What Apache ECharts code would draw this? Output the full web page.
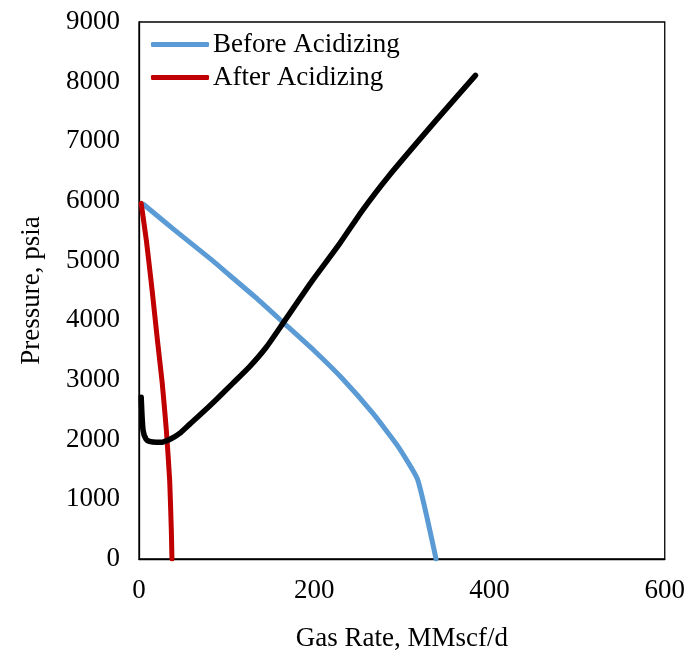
<!DOCTYPE html>
<html>
<head>
<meta charset="utf-8">
<script src="https://cdn.jsdelivr.net/npm/echarts@6/dist/echarts.min.js"></script>
<style>html,body{margin:0;padding:0;background:#fff}#c{width:688px;height:659px}</style>
</head>
<body>
<div id="c"></div>
<script>
// Gas rate (MMscf/d), pressure (psia)
const beforeAcidizing = [[5,5945],[40,5520],[84,5000],[103,4760],[135,4360],[166,3945],[200,3490],[232,3025],[267,2440],[295,1900],[318,1330],[339,0]];
const afterAcidizing = [[2.5,5960],[8.4,5340],[15,4500],[21,3670],[26.5,2950],[31.2,2160],[35,1320],[36.9,480],[37.6,0]];
const tubingCurve = [[2.5,2710],[4.6,2160],[8,2010],[12,1970],[20,1955],[27,1960],[36,2010],[46,2100],[58,2260],[70,2420],[88,2670],[107,2944],[126,3220],[145,3545],[164,3945],[198,4670],[229,5286],[255,5844],[284,6400],[339,7351],[384,8106]];
const seriesNames = ['Before Acidizing', 'After Acidizing'];
const xTitle = 'Gas Rate, MMscf/d';
const yTitle = 'Pressure, psia';

const FONT = '"Liberation Serif", "Times New Roman", serif';
const chart = echarts.init(document.getElementById('c'), null, {renderer: 'canvas'});
chart.setOption({
  animation: false,
  backgroundColor: '#fff',
  textStyle: {fontFamily: FONT, color: '#000'},
  grid: {left: 139, top: 22, right: 22, bottom: 100, show: true, borderColor: '#000', borderWidth: 1.3, backgroundColor: 'transparent'},
  legend: {
    data: seriesNames,
    orient: 'vertical',
    left: 146,
    top: 26,
    itemWidth: 58,
    itemHeight: 5,
    itemGap: 6,
    icon: 'roundRect',
    textStyle: {fontFamily: FONT, fontSize: 27, color: '#000', lineHeight: 27, padding: [0,0,0,-1]}
  },
  xAxis: {
    type: 'value', min: 0, max: 600, interval: 200,
    name: xTitle, nameLocation: 'middle', nameGap: 66,
    nameTextStyle: {fontFamily: FONT, fontSize: 27, color: '#000'},
    axisLine: {show: true, lineStyle: {color: '#000', width: 1.3}},
    axisTick: {show: false},
    splitLine: {show: false},
    axisLabel: {fontFamily: FONT, fontSize: 27, color: '#000', margin: 18, formatter: v => String(v)}
  },
  yAxis: {
    type: 'value', min: 0, max: 9000, interval: 1000,
    name: yTitle, nameLocation: 'middle', nameGap: 94,
    nameTextStyle: {fontFamily: FONT, fontSize: 27, color: '#000'},
    axisLine: {show: true, lineStyle: {color: '#000', width: 1.3}},
    axisTick: {show: false},
    splitLine: {show: false},
    axisLabel: {fontFamily: FONT, fontSize: 27, color: '#000', margin: 19, formatter: v => String(v)}
  },
  series: [
    {name: seriesNames[0], type: 'line', data: beforeAcidizing, showSymbol: false, symbol: 'none', smooth: 0.15,
     lineStyle: {color: '#5B9BD5', width: 5, cap: 'round', join: 'round'}, itemStyle: {color: '#5B9BD5'}},
    {name: seriesNames[1], type: 'line', data: afterAcidizing, showSymbol: false, symbol: 'none', smooth: 0.15,
     lineStyle: {color: '#C00000', width: 5, cap: 'round', join: 'round'}, itemStyle: {color: '#C00000'}},
    {name: 'Tubing', type: 'line', data: tubingCurve, showSymbol: false, symbol: 'none', smooth: 0.2,
     lineStyle: {color: '#000', width: 5.5, cap: 'round', join: 'round'}, itemStyle: {color: '#000'}}
  ]
});
</script>
</body>
</html>
